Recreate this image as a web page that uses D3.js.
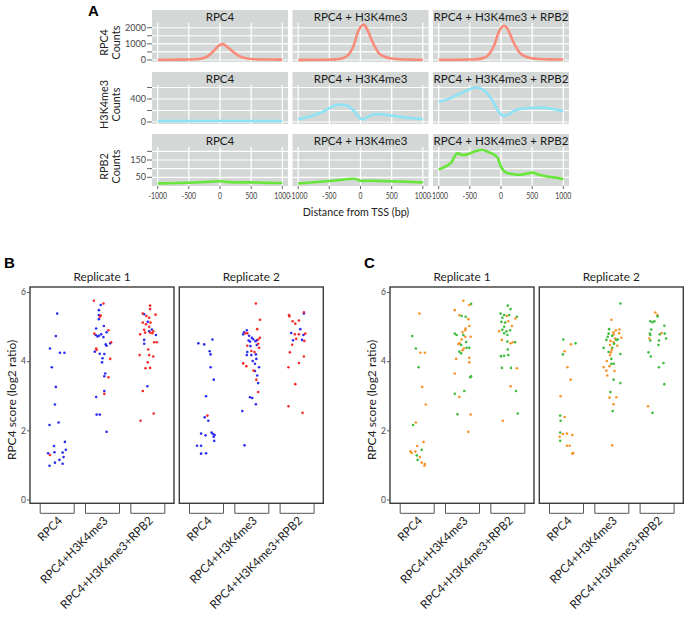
<!DOCTYPE html>
<html><head><meta charset="utf-8">
<script src="https://cdn.jsdelivr.net/npm/d3@7"></script>
<style>body{margin:0;background:#fff}svg{display:block;font-family:Lato,"Open Sans",sans-serif}</style>
</head><body><svg id="chart" width="698" height="618"></svg>
<script>
// ---------- Panel A data ----------
const tssDistance = [-1000,-900,-800,-700,-600,-500,-400,-300,-200,-100,-50,0,50,100,200,300,400,500,600,700,800,900,1000];
const profileColumns = ["RPC4","RPC4 + H3K4me3","RPC4 + H3K4me3 + RPB2"];
const profileRows = ["RPC4","H3K4me3","RPB2"];
const rpc4Counts_RPC4   = [20,20,20,22,25,30,45,90,220,560,780,930,980,860,540,260,120,60,40,30,28,25,25];
const rpc4Counts_H3     = [10,10,12,15,18,25,40,90,300,1000,1650,2050,2190,1950,1050,400,190,90,50,35,25,20,20];
const rpc4Counts_RPB2   = [15,15,16,18,22,30,50,100,320,1000,1600,1980,2120,1950,1100,450,200,100,60,45,40,35,35];
const h3Counts_RPC4     = [15,15,15,15,15,15,16,16,17,18,18,18,18,18,17,17,16,16,15,15,15,15,15];
const h3Counts_H3       = [50,75,100,140,180,240,290,305,275,190,120,60,45,80,130,140,125,110,95,80,70,60,50];
const h3Counts_RPB2     = [350,380,420,470,520,570,600,570,470,300,200,130,105,120,190,225,240,245,250,245,230,210,195];
const rpb2Counts_RPC4   = [15,15,16,17,18,19,20,22,24,26,27,27,26,24,22,21,21,21,20,19,18,17,17];
const rpb2Counts_H3     = [15,17,20,23,26,29,32,36,40,42,38,30,29,30,30,29,28,27,26,25,24,22,21];
const rpb2Counts_RPB2   = [95,110,135,188,178,188,202,208,195,178,160,110,85,75,68,65,70,77,66,58,52,47,40];
const xTicksA = [-1000,-500,0,500,1000];
const yTicksA = [[0,500,1000,1500,2000],[0,200,400,600],[50,100,150,200]];
const yLabelsA = [[0,1000,2000],[0,400],[50,150]];
const yDomainsA = [[-124,2291],[-35,643],[0,225]];

// ---------- Panels B / C data ----------
const categories = ["RPC4","RPC4+H3K4me3","RPC4+H3K4me3+RPB2"];
const replicates = ["Replicate 1","Replicate 2"];
// [category index, jitter (category steps), score, colour class]
const scoresB_rep1 = [
[0,0.00,5.39,"b"],[0,-0.03,4.74,"b"],[0,-0.16,4.38,"b"],[0,0.06,4.26,"b"],[0,0.16,4.26,"b"],[0,-0.12,3.84,"b"],[0,-0.03,3.27,"b"],[0,-0.05,2.76,"b"],[0,0.03,2.24,"b"],[0,-0.17,2.17,"b"],[0,0.17,1.68,"b"],[0,-0.07,1.56,"b"],[0,0.19,1.45,"b"],[0,-0.20,1.35,"b"],[0,-0.06,1.38,"b"],[0,0.12,1.37,"b"],[0,0.14,1.24,"b"],[0,0.05,1.16,"b"],[0,-0.05,1.08,"b"],[0,0.12,1.05,"b"],[0,-0.17,0.99,"b"],[0,-0.16,1.30,"r"],
[1,-0.04,5.64,"b"],[1,-0.08,5.49,"b"],[1,-0.08,5.35,"b"],[1,-0.08,5.23,"b"],[1,0.03,5.03,"b"],[1,-0.14,4.96,"b"],[1,0.09,4.85,"b"],[1,-0.15,4.77,"b"],[1,-0.11,4.73,"b"],[1,-0.08,4.75,"b"],[1,-0.03,4.79,"b"],[1,0.02,4.71,"b"],[1,0.17,4.53,"b"],[1,0.07,4.50,"b"],[1,0.09,4.46,"b"],[1,-0.17,4.29,"b"],[1,-0.06,4.23,"b"],[1,0.04,4.22,"b"],[1,0.00,4.10,"b"],[1,-0.01,3.98,"b"],[1,0.06,3.66,"b"],[1,0.04,3.58,"b"],[1,0.04,3.15,"b"],[1,-0.14,2.98,"b"],[1,-0.13,2.47,"b"],[1,-0.06,2.47,"b"],[1,0.09,1.97,"b"],
[1,-0.19,5.76,"r"],[1,0.02,5.68,"r"],[1,-0.04,5.33,"r"],[1,-0.06,5.30,"r"],[1,0.13,4.91,"r"],[1,-0.18,4.81,"r"],[1,0.19,4.56,"r"],[1,-0.14,4.38,"r"],[1,-0.13,4.34,"r"],[1,0.17,4.08,"r"],[1,0.13,3.55,"r"],[1,0.04,3.07,"r"],
[2,-0.08,5.37,"b"],[2,0.00,5.15,"b"],[2,0.03,4.88,"b"],[2,0.09,4.93,"b"],[2,0.18,4.77,"b"],[2,-0.08,4.63,"b"],[2,-0.08,4.52,"b"],[2,-0.01,3.29,"b"],
[2,0.05,5.62,"r"],[2,0.05,5.52,"r"],[2,-0.11,5.39,"r"],[2,0.17,5.36,"r"],[2,-0.03,5.32,"r"],[2,0.03,5.27,"r"],[2,-0.11,5.13,"r"],[2,0.06,5.13,"r"],[2,-0.04,5.08,"r"],[2,0.03,5.01,"r"],[2,-0.08,4.92,"r"],[2,0.12,4.88,"r"],[2,-0.17,4.79,"r"],[2,-0.06,4.84,"r"],[2,0.05,4.84,"r"],[2,0.10,4.82,"r"],[2,0.14,4.56,"r"],[2,0.20,4.56,"r"],[2,0.01,4.35,"r"],[2,-0.18,4.19,"r"],[2,0.03,4.19,"r"],[2,0.12,4.15,"r"],[2,0.00,3.98,"r"],[2,-0.05,3.81,"r"],[2,0.05,3.82,"r"],[2,-0.11,3.15,"r"],[2,0.13,2.50,"r"],[2,-0.16,2.29,"r"]
];
const scoresB_rep2 = [
[0,-0.18,4.53,"b"],[0,-0.05,4.50,"b"],[0,0.13,4.64,"b"],[0,0.07,4.30,"b"],[0,0.09,4.21,"b"],[0,0.09,3.84,"b"],[0,0.16,3.48,"b"],[0,-0.01,3.00,"b"],[0,-0.04,2.39,"b"],[0,0.04,2.29,"b"],[0,-0.12,1.92,"b"],[0,-0.02,1.87,"b"],[0,0.11,1.95,"b"],[0,0.14,1.91,"b"],[0,0.18,1.88,"b"],[0,0.16,1.83,"b"],[0,0.17,1.71,"b"],[0,-0.21,1.57,"b"],[0,-0.12,1.57,"b"],[0,-0.12,1.34,"b"],[0,-0.01,1.35,"b"],[0,0.02,2.44,"r"],
[1,-0.11,4.91,"b"],[1,-0.17,4.85,"b"],[1,-0.19,4.79,"b"],[1,-0.06,4.75,"b"],[1,0.11,4.62,"b"],[1,0.00,4.69,"b"],[1,0.03,4.65,"b"],[1,-0.04,4.58,"b"],[1,-0.07,4.61,"b"],[1,0.08,4.59,"b"],[1,0.11,4.48,"b"],[1,-0.03,4.45,"b"],[1,-0.10,4.28,"b"],[1,-0.11,4.19,"b"],[1,-0.01,4.19,"b"],[1,0.09,4.21,"b"],[1,0.10,4.08,"b"],[1,0.02,4.02,"b"],[1,0.07,3.94,"b"],[1,0.16,3.84,"b"],[1,0.07,3.73,"b"],[1,0.12,3.60,"b"],[1,0.14,3.38,"b"],[1,-0.04,2.97,"b"],[1,0.01,2.95,"b"],[1,0.09,2.77,"b"],[1,-0.21,2.57,"b"],[1,-0.16,1.58,"b"],
[1,0.09,5.68,"r"],[1,0.18,5.21,"r"],[1,0.12,4.94,"r"],[1,-0.14,4.82,"r"],[1,-0.10,4.82,"r"],[1,0.18,4.69,"r"],[1,0.14,4.64,"r"],[1,0.14,4.52,"r"],[1,0.16,4.40,"r"],[1,-0.10,4.46,"r"],[1,-0.01,4.31,"r"],[1,0.06,4.28,"r"],[1,-0.19,3.95,"r"],[1,-0.12,3.87,"r"],[1,0.04,3.74,"r"],[1,0.10,3.48,"r"],[1,0.14,3.12,"r"],
[2,0.15,5.39,"b"],[2,0.07,4.94,"b"],[2,-0.13,4.83,"b"],[2,0.14,4.77,"b"],[2,-0.09,4.62,"b"],[2,0.11,4.63,"b"],
[2,-0.18,5.35,"r"],[2,-0.17,5.31,"r"],[2,0.15,5.43,"r"],[2,-0.10,5.17,"r"],[2,-0.04,5.10,"r"],[2,0.04,5.19,"r"],[2,-0.05,4.79,"r"],[2,0.04,4.79,"r"],[2,0.18,4.81,"r"],[2,-0.02,4.66,"r"],[2,0.16,4.60,"r"],[2,-0.11,4.49,"r"],[2,-0.16,4.27,"r"],[2,0.15,4.15,"r"],[2,0.04,3.96,"r"],[2,-0.19,3.84,"r"],[2,-0.04,3.35,"r"],[2,-0.19,2.71,"r"],[2,0.12,2.52,"r"]
];
const scoresC_rep1 = [
[0,0.05,5.39,"o"],[0,-0.11,4.74,"g"],[0,-0.03,4.38,"g"],[0,0.07,4.26,"o"],[0,0.17,4.26,"o"],[0,0.03,3.84,"g"],[0,0.11,3.27,"o"],[0,0.19,2.76,"o"],[0,-0.03,2.24,"o"],[0,-0.09,2.17,"g"],[0,0.14,1.68,"o"],[0,0.00,1.56,"o"],[0,0.10,1.45,"g"],[0,-0.15,1.41,"o"],[0,-0.12,1.36,"o"],[0,-0.04,1.40,"o"],[0,-0.01,1.29,"g"],[0,0.06,1.24,"o"],[0,0.01,1.16,"g"],[0,0.10,1.08,"o"],[0,0.17,1.04,"o"],[0,0.16,0.99,"o"],
[1,0.02,5.76,"o"],[1,0.19,5.67,"g"],[1,0.15,5.64,"o"],[1,-0.17,5.49,"o"],[1,-0.07,5.35,"o"],[1,-0.02,5.32,"g"],[1,0.07,5.30,"g"],[1,0.13,5.23,"o"],[1,0.15,5.03,"o"],[1,0.07,4.96,"o"],[1,0.06,4.91,"o"],[1,0.00,4.85,"o"],[1,-0.17,4.81,"g"],[1,-0.13,4.77,"g"],[1,0.02,4.77,"g"],[1,0.06,4.72,"o"],[1,0.18,4.72,"o"],[1,-0.02,4.64,"o"],[1,0.08,4.57,"g"],[1,-0.06,4.53,"o"],[1,-0.09,4.51,"o"],[1,-0.03,4.48,"g"],[1,0.03,4.38,"o"],[1,0.00,4.33,"o"],[1,-0.07,4.29,"g"],[1,-0.03,4.24,"g"],[1,0.09,4.40,"g"],[1,0.15,4.40,"g"],[1,0.15,4.11,"o"],[1,-0.14,4.08,"o"],[1,0.15,3.98,"o"],[1,-0.17,3.66,"o"],[1,0.19,3.58,"g"],[1,0.17,3.55,"g"],[1,0.04,3.15,"g"],[1,-0.17,3.07,"g"],[1,-0.07,2.98,"o"],[1,-0.11,2.48,"g"],[1,0.18,2.47,"o"],[1,0.13,1.97,"o"],
[2,0.00,5.62,"g"],[2,0.06,5.52,"g"],[2,-0.16,5.39,"g"],[2,-0.08,5.35,"g"],[2,0.03,5.35,"g"],[2,-0.02,5.32,"o"],[2,-0.12,5.27,"g"],[2,0.20,5.30,"g"],[2,0.17,5.25,"o"],[2,-0.14,5.15,"g"],[2,-0.06,5.13,"g"],[2,0.01,5.17,"o"],[2,-0.08,5.01,"g"],[2,0.09,5.03,"o"],[2,-0.12,4.92,"g"],[2,-0.03,4.88,"g"],[2,0.05,4.91,"g"],[2,-0.19,4.88,"o"],[2,-0.08,4.82,"g"],[2,-0.01,4.77,"g"],[2,-0.13,4.63,"o"],[2,-0.01,4.58,"g"],[2,0.06,4.53,"o"],[2,0.11,4.56,"o"],[2,0.16,4.56,"g"],[2,0.00,4.35,"g"],[2,-0.15,4.16,"g"],[2,-0.08,4.17,"g"],[2,0.01,4.19,"g"],[2,-0.13,3.82,"g"],[2,0.07,3.82,"g"],[2,0.20,3.81,"o"],[2,0.06,3.29,"o"],[2,0.18,3.15,"g"],[2,0.22,2.50,"g"],[2,-0.11,2.29,"o"]
];
const scoresC_rep2 = [
[0,-0.07,4.64,"g"],[0,0.10,4.50,"o"],[0,0.20,4.53,"g"],[0,-0.04,4.30,"o"],[0,-0.08,4.21,"g"],[0,0.02,3.84,"o"],[0,0.09,3.48,"o"],[0,-0.13,3.00,"o"],[0,-0.14,2.44,"g"],[0,-0.04,2.40,"o"],[0,-0.13,2.29,"g"],[0,-0.14,1.95,"g"],[0,-0.08,1.91,"o"],[0,0.01,1.92,"o"],[0,-0.15,1.83,"o"],[0,0.13,1.88,"o"],[0,-0.14,1.71,"g"],[0,0.01,1.57,"o"],[0,0.07,1.57,"o"],[0,0.13,1.34,"o"],[0,0.15,1.36,"o"],
[1,0.19,5.68,"g"],[1,-0.01,5.21,"o"],[1,0.09,4.91,"o"],[1,0.17,4.93,"o"],[1,-0.06,4.94,"g"],[1,0.04,4.85,"o"],[1,0.04,4.79,"o"],[1,-0.07,4.81,"g"],[1,-0.09,4.72,"g"],[1,0.01,4.75,"g"],[1,0.07,4.67,"o"],[1,0.16,4.82,"o"],[1,0.21,4.69,"o"],[1,-0.12,4.63,"g"],[1,-0.03,4.60,"o"],[1,0.04,4.56,"o"],[1,0.10,4.63,"g"],[1,0.13,4.64,"g"],[1,0.05,4.52,"g"],[1,0.12,4.46,"o"],[1,-0.04,4.48,"o"],[1,0.01,4.40,"g"],[1,-0.18,4.40,"g"],[1,0.00,4.34,"o"],[1,-0.07,4.28,"g"],[1,-0.02,4.27,"o"],[1,-0.04,4.19,"o"],[1,0.19,4.22,"g"],[1,-0.01,4.08,"g"],[1,-0.11,4.02,"o"],[1,-0.01,3.94,"g"],[1,0.04,3.94,"g"],[1,-0.18,3.84,"o"],[1,-0.05,3.87,"o"],[1,-0.12,3.74,"o"],[1,0.06,3.73,"o"],[1,-0.10,3.60,"o"],[1,0.04,3.48,"g"],[1,0.19,3.38,"g"],[1,-0.03,3.12,"g"],[1,-0.05,2.96,"o"],[1,0.10,2.97,"o"],[1,0.04,2.77,"o"],[1,0.02,2.57,"g"],[1,0.01,1.58,"o"],
[2,-0.04,5.42,"o"],[2,0.01,5.35,"o"],[2,0.01,5.31,"g"],[2,-0.15,5.17,"g"],[2,-0.10,5.14,"g"],[2,-0.06,5.17,"g"],[2,-0.13,4.93,"g"],[2,0.16,5.04,"g"],[2,-0.16,4.81,"g"],[2,-0.15,4.77,"g"],[2,0.06,4.79,"g"],[2,0.10,4.83,"o"],[2,0.17,4.81,"g"],[2,-0.17,4.67,"o"],[2,-0.15,4.61,"g"],[2,0.04,4.61,"g"],[2,0.20,4.67,"g"],[2,0.03,4.48,"g"],[2,-0.19,4.27,"g"],[2,-0.14,4.15,"g"],[2,0.14,3.96,"g"],[2,0.04,3.84,"g"],[2,0.16,3.35,"g"],[2,-0.20,2.71,"o"],[2,-0.10,2.52,"g"]
];
const scoreTicks = [0,2,4,6];

// ---------- drawing ----------
const svg = d3.select("#chart");
const gray = "#d3d7d6";
const rowSeries = [
  [rpc4Counts_RPC4, rpc4Counts_H3, rpc4Counts_RPB2],
  [h3Counts_RPC4, h3Counts_H3, h3Counts_RPB2],
  [rpb2Counts_RPC4, rpb2Counts_H3, rpb2Counts_RPB2]
];
const rowColors = ["#f98b7a", "#8ee2f6", "#69e63b"];
const A = {x0:152, pw:136, gap:4.5, top:10, pitch:62, stripH:13, panelH:39};

svg.append("text").attr("x", 88).attr("y", 15.5).attr("font-size", 15).attr("font-weight", "bold")
   .attr("font-family", "Arial, Liberation Sans, sans-serif").text("A");

profileRows.forEach((rowName, r) => {
  const top = A.top + r * A.pitch;
  const pTop = top + A.stripH, pBot = pTop + A.panelH;
  const y = d3.scaleLinear().domain(yDomainsA[r]).range([pBot, pTop]);
  profileColumns.forEach((colName, c) => {
    const px = A.x0 + c * (A.pw + A.gap);
    const x = d3.scaleLinear().domain([-1091, 1091]).range([px, px + A.pw]);
    const g = svg.append("g");
    g.append("rect").attr("x", px).attr("y", top).attr("width", A.pw).attr("height", A.stripH + A.panelH).attr("fill", gray);
    g.append("text").attr("x", px + A.pw / 2).attr("y", top + 10.8).attr("text-anchor", "middle")
      .attr("font-size", 11.6).attr("fill", "#1a1a1a").text(colName);
    g.selectAll(".hg").data(yTicksA[r]).join("line")
      .attr("x1", px).attr("x2", px + A.pw).attr("y1", d => y(d)).attr("y2", d => y(d))
      .attr("stroke", "#fff").attr("stroke-width", 1.1);
    g.selectAll(".vg").data(xTicksA).join("line")
      .attr("x1", d => x(d)).attr("x2", d => x(d)).attr("y1", pTop).attr("y2", pBot)
      .attr("stroke", "#fff").attr("stroke-width", 1.3);
    const line = d3.line().x((d, i) => x(tssDistance[i])).y(d => y(d)).curve(d3.curveMonotoneX);
    g.append("path").attr("d", line(rowSeries[r][c])).attr("fill", "none")
      .attr("stroke", rowColors[r]).attr("stroke-width", 2.6).attr("stroke-linejoin", "round");
    if (c === 0) {
      g.selectAll(".yt").data(yTicksA[r]).join("line")
        .attr("x1", px - 5).attr("x2", px).attr("y1", d => y(d)).attr("y2", d => y(d))
        .attr("stroke", "#666").attr("stroke-width", 1);
      g.selectAll(".yl").data(yLabelsA[r]).join("text")
        .attr("x", px - 6).attr("y", d => y(d) + 3).attr("text-anchor", "end")
        .attr("font-size", 9).attr("fill", "#444").text(d => d);
    }
    if (r === 2) {
      g.selectAll(".xt").data(xTicksA).join("line")
        .attr("x1", d => x(d)).attr("x2", d => x(d)).attr("y1", pBot).attr("y2", pBot + 3)
        .attr("stroke", "#666");
      g.selectAll(".xl").data(xTicksA).join("text")
        .attr("transform", d => `translate(${x(d)},${pBot + 12.5}) scale(0.8,1)`)
        .attr("text-anchor", "middle")
        .attr("font-size", 8.6).attr("fill", "#444").text(d => d);
    }
  });
  const cy = (pTop + pBot) / 2;
  svg.append("text").attr("transform", `translate(108,${cy}) rotate(-90)`)
    .attr("text-anchor", "middle").attr("font-size", 10.8).attr("fill", "#222").text(rowName);
  svg.append("text").attr("transform", `translate(119.5,${cy}) rotate(-90)`)
    .attr("text-anchor", "middle").attr("font-size", 10.8).attr("fill", "#222").text("Counts");
});
svg.append("text").attr("x", 356).attr("y", 216).attr("text-anchor", "middle")
  .attr("font-size", 10.7).attr("fill", "#222").text("Distance from TSS (bp)");

// ---------- Panels B and C ----------
const scatterPanels = [
  {label:"B", x0:30, data:[scoresB_rep1, scoresB_rep2], colors:{b:"#2d2df2", r:"#f52a2a"}},
  {label:"C", x0:390, data:[scoresC_rep1, scoresC_rep2], colors:{o:"#f7942a", g:"#3ebc3e"}}
];
const S = {fw:144, fgap:5.3, top:287, bot:503.3};
const yS = d3.scaleLinear().domain([0, 6]).range([500, 292.5]);

scatterPanels.forEach(P => {
  svg.append("text").attr("x", P.x0 - 26).attr("y", 268).attr("font-size", 15).attr("font-weight", "bold")
    .attr("font-family", "Arial, Liberation Sans, sans-serif").text(P.label);
  svg.append("text").attr("transform", `translate(${P.x0 - 14},400) rotate(-90)`)
    .attr("text-anchor", "middle").attr("font-size", 12).attr("fill", "#222").text("RPC4 score (log2 ratio)");
  replicates.forEach((rep, k) => {
    const fx = P.x0 + k * (S.fw + S.fgap);
    const xc = d3.scalePoint().domain(d3.range(categories.length)).range([fx + 27.2, fx + 117.8]);
    const step = xc.step();
    const g = svg.append("g");
    g.append("text").attr("x", fx + S.fw / 2).attr("y", 280.5).attr("text-anchor", "middle")
      .attr("font-size", 11.8).attr("fill", "#222").text(rep);
    g.append("rect").attr("x", fx).attr("y", S.top).attr("width", S.fw).attr("height", S.bot - S.top)
      .attr("fill", "#fff").attr("stroke", "#3a3a3a").attr("stroke-width", 1.4);
    if (k === 0) {
      g.selectAll(".yt").data(scoreTicks).join("line")
        .attr("x1", fx - 3).attr("x2", fx).attr("y1", d => yS(d)).attr("y2", d => yS(d)).attr("stroke", "#555");
      g.selectAll(".yl").data(scoreTicks).join("text")
        .attr("x", fx - 4).attr("y", d => yS(d) + 2.8).attr("text-anchor", "end")
        .attr("font-size", 8.5).attr("fill", "#444").text(d => d);
    }
    categories.forEach((cat, i) => {
      const cx = xc(i);
      g.append("path").attr("d", `M${cx - 17},${S.bot} V${S.bot + 10} H${cx + 17} V${S.bot}`)
        .attr("fill", "none").attr("stroke", "#555").attr("stroke-width", 1);
      g.append("text").attr("transform", `translate(${cx + 6},${S.bot + 18}) rotate(-45)`)
        .attr("text-anchor", "end").attr("font-size", 11.8).attr("fill", "#222").text(cat);
    });
    g.selectAll("circle").data(P.data[k]).join("circle")
      .attr("cx", d => xc(d[0]) + d[1] * step)
      .attr("cy", d => yS(d[2]))
      .attr("r", 1.3)
      .attr("fill", d => P.colors[d[3]]);
  });
});
</script></body></html>
